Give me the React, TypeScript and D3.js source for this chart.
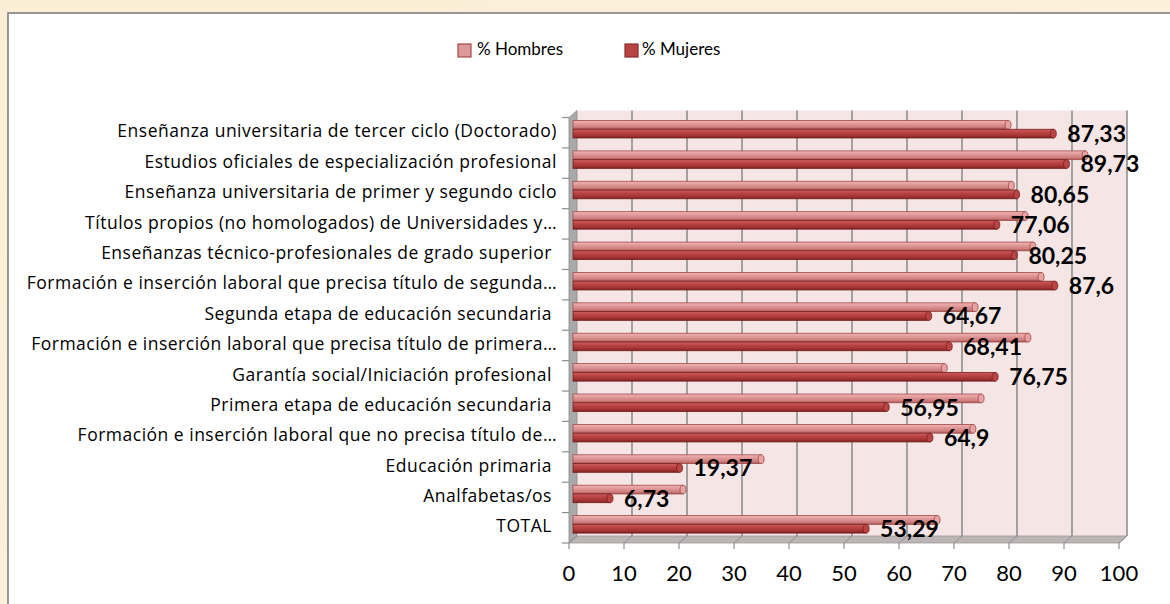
import React from 'react';
import * as d3 from 'd3';

const categories = [
  'Enseñanza universitaria de tercer ciclo (Doctorado)',
  'Estudios oficiales de especialización profesional',
  'Enseñanza universitaria de primer y segundo ciclo',
  'Títulos propios (no homologados) de Universidades y…',
  'Enseñanzas técnico-profesionales de grado superior ',
  'Formación e inserción laboral que precisa título de segunda…',
  'Segunda etapa de educación secundaria ',
  'Formación e inserción laboral que precisa título de primera…',
  'Garantía social/Iniciación profesional ',
  'Primera etapa de educación secundaria ',
  'Formación e inserción laboral que no precisa título de…',
  'Educación primaria ',
  'Analfabetas/os ',
  'TOTAL ',
];

const hombres = [79.1, 93.1, 79.7, 82.2, 83.6, 85.1, 73.1, 82.7, 67.5, 74.2, 72.7, 34.2, 20.0, 66.2];
const mujeres = [87.33, 89.73, 80.65, 77.06, 80.25, 87.6, 64.67, 68.41, 76.75, 56.95, 64.9, 19.37, 6.73, 53.29];
const mujeresLabels = ['87,33', '89,73', '80,65', '77,06', '80,25', '87,6', '64,67', '68,41', '76,75', '56,95', '64,9', '19,37', '6,73', '53,29'];

const xTicks = [0, 10, 20, 30, 40, 50, 60, 70, 80, 90, 100];
const seriesNames = ['% Hombres', '% Mujeres'];

const W = 1170;
const H = 604;
const font = 'Lato, "Open Sans", sans-serif';
const catFont = '"Open Sans", Lato, sans-serif';

// depth of the 3d box
const DX = 8;
const DY = 7;

const App = () => {
  const x = d3.scaleLinear().domain([0, 100]).range([569, 1119]);
  const y = d3.scaleBand<string>().domain(categories).range([117.5, 543]).padding(0);
  const step = y.bandwidth();
  const sub = d3.scaleBand<string>().domain(['h', 'm']).range([3, 20.5]).padding(0);
  const bh = sub.bandwidth();
  const floorY = 543;
  const topY = 117.5;

  const bar = (key: string, v: number, cat: string, grad: string, edge: string, cap: string) => {
    const x0 = x(0) + DX / 2;
    const x1 = x(v) + DX / 2;
    const yy = (y(cat) as number) + (sub(key) as number);
    return (
      <g key={key + cat}>
        <rect x={x0} y={yy} width={x1 - x0} height={bh} fill={`url(#${grad})`} stroke={edge} strokeWidth={0.8} />
        <ellipse cx={x1} cy={yy + bh / 2} rx={3} ry={bh / 2} fill={cap} stroke={edge} strokeWidth={0.8} />
      </g>
    );
  };

  return (
    <svg width={W} height={H} style={{ position: 'absolute', left: 0, top: 0 }}>
      <defs>
        <linearGradient id="bgH" x1="0" y1="0" x2="0" y2="1">
          <stop offset="0" stopColor="#f2b6b6" />
          <stop offset="0.35" stopColor="#e29a9a" />
          <stop offset="0.75" stopColor="#cf7f7f" />
          <stop offset="1" stopColor="#a85252" />
        </linearGradient>
        <linearGradient id="bgM" x1="0" y1="0" x2="0" y2="1">
          <stop offset="0" stopColor="#cf5f5f" />
          <stop offset="0.35" stopColor="#bb4444" />
          <stop offset="0.75" stopColor="#a23434" />
          <stop offset="1" stopColor="#7a1f1f" />
        </linearGradient>
        <linearGradient id="paper" x1="0" y1="0" x2="1" y2="1">
          <stop offset="0" stopColor="#fbeed6" />
          <stop offset="0.5" stopColor="#fcf0db" />
          <stop offset="1" stopColor="#f9e8c9" />
        </linearGradient>
      </defs>

      <rect x={0} y={0} width={W} height={H} fill="url(#paper)" />
      <rect x={8} y={13} width={W + 20} height={H + 20} fill="#ffffff" stroke="#7f7f7f" strokeWidth={1.6} />

      {/* legend */}
      <g fontFamily={font} fontSize={17} fill="#000">
        <rect x={458} y={44} width={13} height={13} fill="#dd9999" stroke="#a94a4a" strokeWidth={1.2} />
        <text x={477} y={51} dominantBaseline="middle">{seriesNames[0]}</text>
        <rect x={625} y={44} width={13} height={13} fill="#b84343" stroke="#8b2a2a" strokeWidth={1.2} />
        <text x={642} y={51} dominantBaseline="middle">{seriesNames[1]}</text>
      </g>

      {/* back wall */}
      <rect x={x(0) + DX} y={topY - DY} width={x(100) - x(0)} height={floorY - topY} fill="#f5e5e5" />
      {/* left wall */}
      <polygon
        points={`${x(0)},${topY} ${x(0) + DX},${topY - DY} ${x(0) + DX},${floorY - DY} ${x(0)},${floorY}`}
        fill="#a9a9a9"
        stroke="#8c8c8c"
        strokeWidth={0.8}
      />
      {/* floor */}
      <polygon
        points={`${x(0)},${floorY} ${x(100)},${floorY} ${x(100) + DX},${floorY - DY} ${x(0) + DX},${floorY - DY}`}
        fill="#bdb5b5"
        stroke="#9a9a9a"
        strokeWidth={0.8}
      />
      {/* grid lines on back wall and floor */}
      {xTicks.map((t) => (
        <g key={t} stroke="#8e8e8e" strokeWidth={1.6}>
          {t > 0 && <line x1={x(t) + DX} x2={x(t) + DX} y1={topY - DY} y2={floorY - DY} />}
          <line x1={x(t)} y1={floorY} x2={x(t) + DX} y2={floorY - DY} strokeWidth={1} />
          <line x1={x(t)} y1={floorY} x2={x(t)} y2={floorY + 6} strokeWidth={1.2} />
        </g>
      ))}

      {/* category axis ticks */}
      {categories.map((c) => (
        <line key={c} x1={x(0) - 7} x2={x(0)} y1={y(c) as number} y2={y(c) as number} stroke="#8e8e8e" strokeWidth={1.2} />
      ))}
      <line x1={x(0) - 7} x2={x(0)} y1={floorY} y2={floorY} stroke="#8e8e8e" strokeWidth={1.2} />

      {/* bars */}
      {categories.map((c, i) => (
        <g key={c}>
          {bar('h', hombres[i], c, 'bgH', '#a04848', '#e7a3a3')}
          {bar('m', mujeres[i], c, 'bgM', '#7a1f1f', '#b84444')}
        </g>
      ))}

      {/* category labels */}
      <g fontFamily={catFont} fontSize={17.5} letterSpacing={0.5} fill="#000" textAnchor="end">
        {categories.map((c) => (
          <text key={c} x={557} y={(y(c) as number) + step / 2} dominantBaseline="middle" style={{ whiteSpace: 'pre' }}>
            {c}
          </text>
        ))}
      </g>

      {/* data labels */}
      <g fontFamily={font} fontSize={23} fontWeight="bold" fill="#000">
        {categories.map((c, i) => (
          <text
            key={c}
            x={x(mujeres[i]) + 18}
            y={(y(c) as number) + (sub('m') as number) + bh / 2 + 2.5}
            dominantBaseline="middle"
          >
            {mujeresLabels[i]}
          </text>
        ))}
      </g>

      {/* x tick labels */}
      <g fontFamily={font} fontSize={22} fill="#000" textAnchor="middle">
        {xTicks.map((t) => (
          <text key={t} x={x(t)} y={575} dominantBaseline="middle">{t}</text>
        ))}
      </g>
    </svg>
  );
};

export default App;
